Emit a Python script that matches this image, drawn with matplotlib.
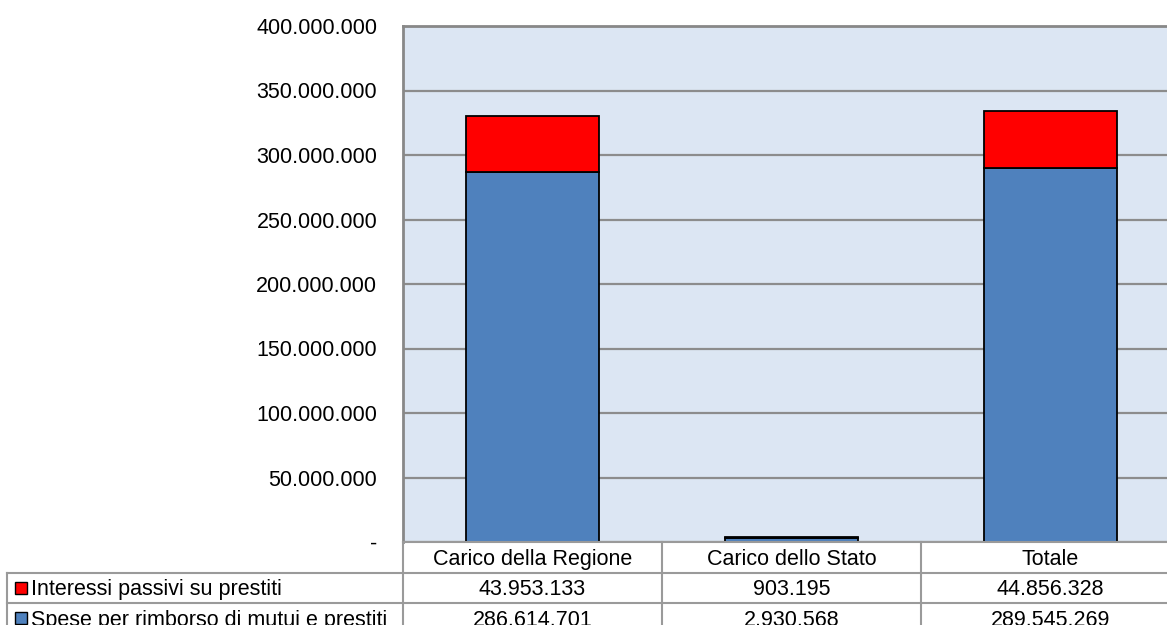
import matplotlib
matplotlib.use('Agg')
import matplotlib.pyplot as plt
from matplotlib.lines import Line2D
from matplotlib.patches import Rectangle
from matplotlib.ticker import FuncFormatter, MultipleLocator
import numpy as np

plt.rcParams['font.family'] = ['Liberation Sans', 'DejaVu Sans']

# dati
categorie = ['Carico della Regione', 'Carico dello Stato', 'Totale']
interessi = [43953133, 903195, 44856328]
spese = [286614701, 2930568, 289545269]
serie_nomi = ['Interessi passivi su prestiti', 'Spese per rimborso di mutui e prestiti']

col_blu = '#4F81BD'
col_rosso = '#FF0000'
col_griglia = '#8C8C8C'
col_tab = '#9A9A9A'

W, H = 1167, 625
fig = plt.figure(figsize=(W / 100, H / 100), dpi=100)


def fx(px):
    return px / W


def fy(py):
    return 1 - py / H


def fmt_num(v):
    return f"{int(v):,}".replace(',', '.')


fs = 15.5

# area del grafico (si estende oltre il bordo destro)
left, top, bottom = 403, 26, 542
col_w = 259
ax = fig.add_axes([fx(left), fy(bottom), (3 * col_w) / W, (bottom - top) / H])
ax.set_facecolor('#DCE6F3')

x = np.arange(len(categorie))
ax.bar(x, spese, width=0.51, color=col_blu, edgecolor='black', linewidth=1.3, zorder=3)
ax.bar(x, interessi, bottom=spese, width=0.51, color=col_rosso, edgecolor='black',
       linewidth=1.3, zorder=3)

ax.set_xlim(-0.5, 2.5)
ax.set_ylim(0, 400000000)
ax.yaxis.set_major_locator(MultipleLocator(50000000))
ax.yaxis.set_major_formatter(FuncFormatter(lambda v, p: '-' if v == 0 else fmt_num(v)))
ax.tick_params(axis='y', length=0, pad=18.5, labelsize=fs)
ax.set_xticks([])
ax.grid(axis='y', color=col_griglia, linewidth=1.6, zorder=1)
for s in ['right', 'bottom']:
    ax.spines[s].set_visible(False)
for s in ['left', 'top']:
    ax.spines[s].set_color('#888888')
    ax.spines[s].set_linewidth(2)


# tabella dati sotto il grafico
def linea(x0, y0, x1, y1):
    fig.add_artist(Line2D([fx(x0), fx(x1)], [fy(y0), fy(y1)], color=col_tab, linewidth=1.5))


row_h = 30.5
righe_y = [bottom, bottom + row_h, bottom + 2 * row_h, bottom + 3 * row_h]
leg_x = 7
linea(left, righe_y[0], W, righe_y[0])
linea(leg_x, righe_y[1], W, righe_y[1])
linea(leg_x, righe_y[2], W, righe_y[2])
linea(leg_x, righe_y[1], leg_x, H + 10)
for i in range(3):
    xc = left + i * col_w
    linea(xc, righe_y[0], xc, H + 10)

dy = 2  # il testo siede un po' più in basso del centro della riga
for i, cat in enumerate(categorie):
    xc = left + (i + 0.5) * col_w
    fig.text(fx(xc), fy(righe_y[0] + row_h / 2 + dy), cat, ha='center', va='center', fontsize=fs)
    fig.text(fx(xc), fy(righe_y[1] + row_h / 2 + dy), fmt_num(interessi[i]),
             ha='center', va='center', fontsize=fs)
    fig.text(fx(xc), fy(righe_y[2] + row_h / 2 + dy), fmt_num(spese[i]),
             ha='center', va='center', fontsize=fs)

for j, (nome, col) in enumerate(zip(serie_nomi, [col_rosso, col_blu])):
    yc = righe_y[j + 1] + row_h / 2
    sq = 12
    fig.add_artist(Rectangle((fx(15), fy(yc + sq / 2)), sq / W, sq / H,
                             facecolor=col, edgecolor='black', linewidth=1))
    fig.text(fx(31), fy(yc + dy), nome, ha='left', va='center', fontsize=fs)

fig.savefig('out.png', dpi=100)
